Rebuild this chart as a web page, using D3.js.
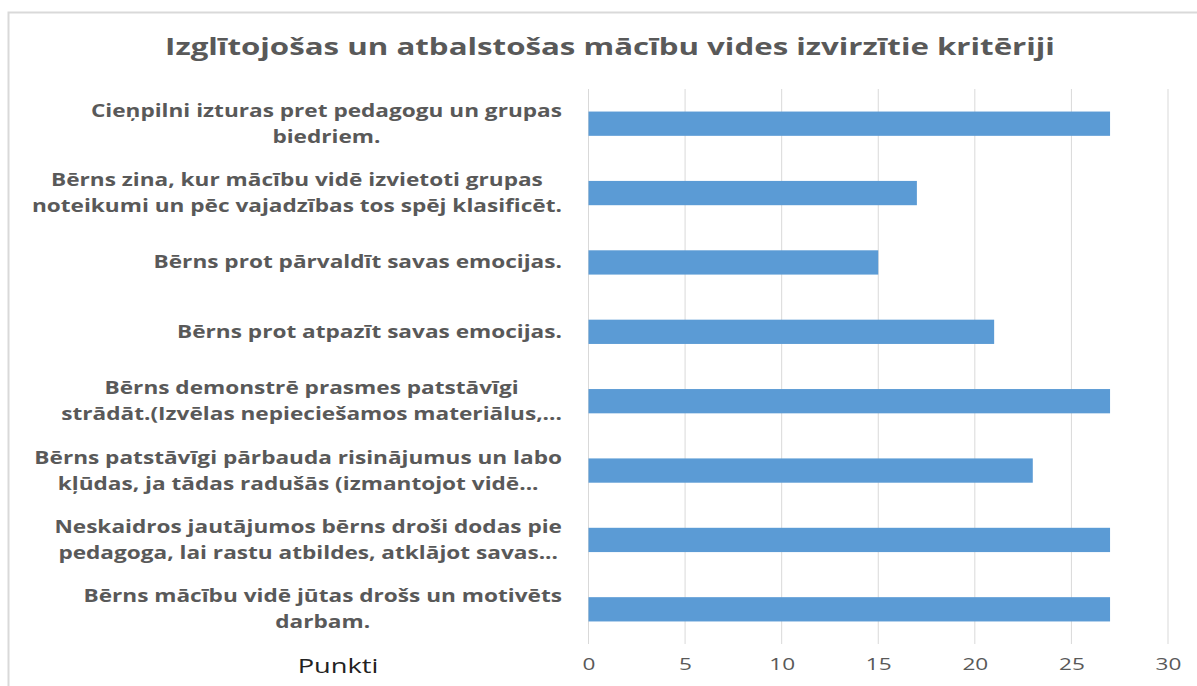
<!DOCTYPE html>
<html lang="lv">
<head>
<meta charset="UTF-8">
<title>Izglītojošas un atbalstošas mācību vides izvirzītie kritēriji</title>
<style>
  body { margin: 0; background: #fff; }
  svg { display: block; font-family: "Open Sans", "Noto Sans", sans-serif; }
</style>
</head>
<body>
<svg id="chart" width="1197" height="686"></svg>
<script src="https://d3js.org/d3.v7.min.js"></script>
<script>
// kritēriji no augšas uz leju
const categories = [
  "Cieņpilni izturas pret pedagogu un grupas\nbiedriem.",
  "Bērns zina, kur mācību vidē izvietoti grupas\nnoteikumi un pēc vajadzības tos spēj klasificēt.",
  "Bērns prot pārvaldīt savas emocijas.",
  "Bērns prot atpazīt savas emocijas.",
  "Bērns demonstrē prasmes patstāvīgi\nstrādāt.(Izvēlas nepieciešamos materiālus,...",
  "Bērns patstāvīgi pārbauda risinājumus un labo\nkļūdas, ja tādas radušās (izmantojot vidē...",
  "Neskaidros jautājumos bērns droši dodas pie\npedagoga, lai rastu atbildes, atklājot savas...",
  "Bērns mācību vidē jūtas drošs un motivēts\ndarbam."
];
const values = [27, 17, 15, 21, 27, 23, 27, 27];
const xTicks = [0, 5, 10, 15, 20, 25, 30];
const title = "Izglītojošas un atbalstošas mācību vides izvirzītie kritēriji";
const axisTitle = "Punkti";

const sx = 1.33; // oriģinālā teksts ir izstiepts horizontāli
const svg = d3.select("#chart");

// rāmis
svg.append("rect")
  .attr("x", 8.5).attr("y", 12.5)
  .attr("width", 1200).attr("height", 700)
  .attr("fill", "none")
  .attr("stroke", "#d9d9d9")
  .attr("stroke-width", 2);

svg.append("text")
  .attr("transform", `translate(610,55) scale(${sx},1)`)
  .attr("text-anchor", "middle")
  .attr("font-size", 23.5)
  .attr("font-weight", "bold")
  .attr("fill", "#595959")
  .text(title);

const x = d3.scaleLinear().domain([0, 30]).range([588.5, 1168]);
const y = d3.scaleBand().domain(categories).range([89, 644]).paddingInner(0.65).paddingOuter(0.325);

// režģis
svg.append("g")
  .selectAll("line")
  .data(xTicks)
  .join("line")
  .attr("x1", d => x(d)).attr("x2", d => x(d))
  .attr("y1", 89).attr("y2", 644)
  .attr("stroke", "#d9d9d9")
  .attr("stroke-width", 1);

// stabiņi
svg.append("g")
  .selectAll("rect")
  .data(values)
  .join("rect")
  .attr("x", x(0))
  .attr("y", (d, i) => y(categories[i]))
  .attr("width", d => x(d) - x(0))
  .attr("height", y.bandwidth())
  .attr("fill", "#5b9bd5");

// x ass
const xAxis = svg.append("g")
  .attr("transform", "translate(0,658)")
  .call(d3.axisBottom(x).tickValues(xTicks).tickSize(0).tickPadding(0));
xAxis.select(".domain").remove();
xAxis.selectAll("text")
  .attr("transform", `scale(${sx},1)`)
  .attr("font-family", "\"Open Sans\", sans-serif")
  .attr("font-size", 17)
  .attr("fill", "#595959");

svg.append("text")
  .attr("transform", `translate(338,673) scale(${sx},1)`)
  .attr("text-anchor", "middle")
  .attr("font-size", 20.5)
  .attr("fill", "#222")
  .text(axisTitle);

// kategoriju nosaukumi: rindas centrētas, bloks līdzināts pa labi
const labelRight = 562;
const lineH = 26;
categories.forEach((cat, i) => {
  const lines = cat.split("\n");
  const t = svg.append("text")
    .attr("font-size", 17)
    .attr("font-weight", "bold")
    .attr("fill", "#595959")
    .attr("text-anchor", "middle");
  const tspans = t.selectAll("tspan")
    .data(lines)
    .join("tspan")
    .text(d => d);
  let maxW = 0;
  tspans.each(function() { maxW = Math.max(maxW, this.getComputedTextLength()); });
  const cx = labelRight - maxW * sx / 2;
  const cy = y(cat) + y.bandwidth() / 2;
  const top = -(lines.length - 1) * lineH / 2;
  t.attr("transform", `translate(${cx},${cy}) scale(${sx},1)`);
  tspans.attr("x", 0).attr("y", (d, j) => top + j * lineH).attr("dy", "0.35em");
});
</script>
</body>
</html>
